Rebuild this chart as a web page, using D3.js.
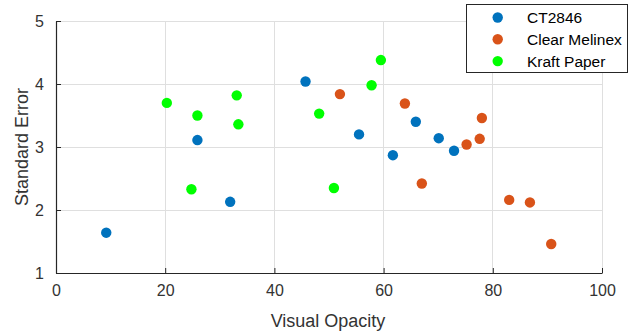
<!DOCTYPE html>
<html><head><meta charset="utf-8">
<script src="https://cdn.jsdelivr.net/npm/d3@7"></script>
<style>body{margin:0;background:#fff}svg{display:block;font-family:"Liberation Sans",Arial,sans-serif}</style>
</head><body><svg id="c" width="634" height="335"></svg>
<script>
const seriesNames = ["CT2846", "Clear Melinex", "Kraft Paper"];
const seriesColors = ["#0072BD", "#D95319", "#00FF00"];
const ct2846X = [9.2, 25.9, 31.9, 45.7, 55.5, 61.7, 65.9, 70.1, 72.9];
const ct2846Y = [1.64, 3.11, 2.13, 4.04, 3.20, 2.87, 3.40, 3.14, 2.94];
const melinexX = [52.0, 63.9, 67.0, 75.2, 77.6, 78.0, 83.0, 86.8, 90.7];
const melinexY = [3.84, 3.69, 2.42, 3.04, 3.13, 3.46, 2.16, 2.12, 1.46];
const kraftX = [20.3, 24.8, 25.9, 33.1, 33.4, 48.2, 50.9, 57.8, 59.5];
const kraftY = [3.70, 2.33, 3.50, 3.82, 3.36, 3.53, 2.35, 3.98, 4.38];
const xTicks = [0, 20, 40, 60, 80, 100];
const yTicks = [1, 2, 3, 4, 5];

const series = [
  {name: seriesNames[0], color: seriesColors[0], xs: ct2846X, ys: ct2846Y},
  {name: seriesNames[1], color: seriesColors[1], xs: melinexX, ys: melinexY},
  {name: seriesNames[2], color: seriesColors[2], xs: kraftX, ys: kraftY}
];

const svg = d3.select("#c");
const L = 56, R = 602, T = 21, B = 273;
const x = d3.scaleLinear().domain([0, 100]).range([L, R]);
const y = d3.scaleLinear().domain([1, 5]).range([B, T]);

// grid
const g = svg.append("g");
g.selectAll(".gx").data(xTicks).join("line")
  .attr("x1", d => x(d)).attr("x2", d => x(d)).attr("y1", T).attr("y2", B)
  .attr("stroke", "#dfdfdf").attr("stroke-width", 1).attr("shape-rendering", "crispEdges");
g.selectAll(".gy").data(yTicks).join("line")
  .attr("x1", L).attr("x2", R).attr("y1", d => y(d)).attr("y2", d => y(d))
  .attr("stroke", "#dfdfdf").attr("stroke-width", 1).attr("shape-rendering", "crispEdges");

// axes
const xAxis = d3.axisBottom(x).tickValues(xTicks).tickFormat(d3.format("d")).tickSizeInner(-5).tickSizeOuter(0).tickPadding(12);
const yAxis = d3.axisLeft(y).tickValues(yTicks).tickFormat(d3.format("d")).tickSizeInner(-5).tickSizeOuter(0).tickPadding(12);
const gx = svg.append("g").attr("transform", `translate(0,${B})`).call(xAxis);
const gy = svg.append("g").attr("transform", `translate(${L},0)`).call(yAxis);
[gx, gy].forEach(a => {
  a.select(".domain").attr("stroke", "#262626").attr("stroke-width", 1.2);
  a.selectAll(".tick line").attr("stroke", "#262626");
  a.selectAll(".tick text").attr("fill", "#333").style("font-size", "16px")
    .style("font-family", '"Liberation Sans",Arial,sans-serif');
});
gx.selectAll(".tick text").attr("dy", "0.71em");

svg.append("text").attr("x", (L + R) / 2 - 1).attr("y", 327).attr("text-anchor", "middle")
  .attr("fill", "#333").style("font-size", "18px").text("Visual Opacity");
svg.append("text").attr("transform", `translate(28,${(T + B) / 2}) rotate(-90)`).attr("text-anchor", "middle")
  .attr("fill", "#333").style("font-size", "18px").text("Standard Error");

// points
series.forEach(s => {
  svg.append("g").selectAll("circle").data(s.xs.map((v, i) => [v, s.ys[i]])).join("circle")
    .attr("cx", d => x(d[0])).attr("cy", d => y(d[1])).attr("r", 5.2).attr("fill", s.color);
});

// legend
const lg = svg.append("g");
lg.append("rect").attr("x", 466.5).attr("y", 4.5).attr("width", 161).attr("height", 68)
  .attr("fill", "#fff").attr("stroke", "#262626").attr("stroke-width", 1);
series.forEach((s, i) => {
  const cy = 17.5 + i * 21.8;
  lg.append("circle").attr("cx", 497.7).attr("cy", cy).attr("r", 5.2).attr("fill", s.color);
  lg.append("text").attr("x", 527).attr("y", cy).attr("dy", "0.36em").attr("fill", "#000")
    .style("font-size", "15.5px").text(s.name);
});
</script></body></html>
